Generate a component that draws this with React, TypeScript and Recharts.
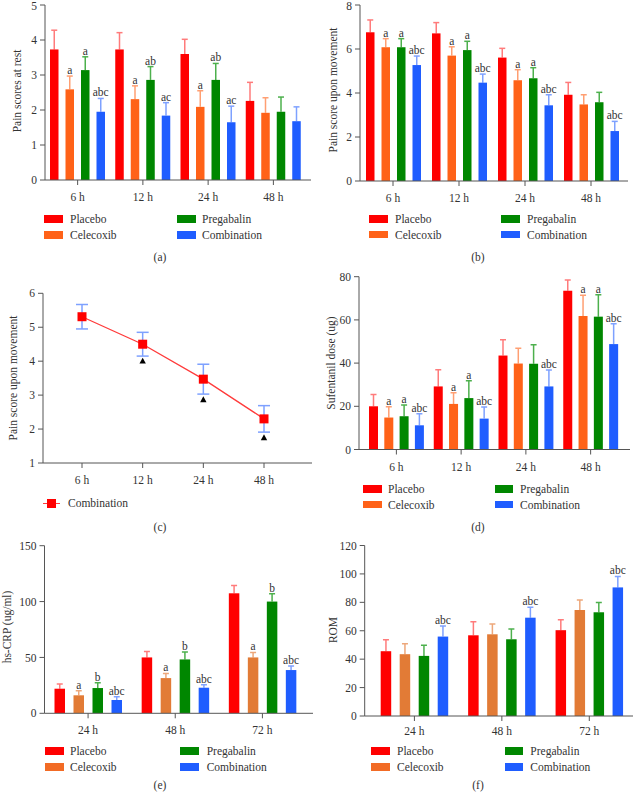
import React from 'react';
import { BarChart, Bar, LineChart, Line, XAxis, YAxis, ErrorBar } from 'recharts';

const FONT = '"Liberation Serif", "Times New Roman", serif';
const AXIS = '#555';
const TEXT = '#333';

const RED = '#ff0000';
const RED_ERR = '#ff7b7b';
const ORANGE = '#ff6218';
const ORANGE_ERR = '#ff9f72';
const ORANGE_DULL = '#e27b36';
const ORANGE_DULL_ERR = '#eda77a';
const GREEN = '#008700';
const GREEN_ERR = '#4db04d';
const BLUE = '#1f5dff';
const BLUE_ERR = '#7ea1ff';

const groupNames = ['Placebo', 'Celecoxib', 'Pregabalin', 'Combination'];
const hoursEarly = ['6 h', '12 h', '24 h', '48 h'];
const hoursLate = ['24 h', '48 h', '72 h'];

// (a) pain scores at rest
const restPlacebo = [3.73, 3.73, 3.6, 2.26];
const restPlaceboSd = [0.55, 0.48, 0.42, 0.53];
const restCelecoxib = [2.59, 2.31, 2.09, 1.92];
const restCelecoxibSd = [0.38, 0.38, 0.46, 0.43];
const restPregabalin = [3.14, 2.86, 2.86, 1.95];
const restPregabalinSd = [0.38, 0.38, 0.47, 0.42];
const restCombination = [1.95, 1.84, 1.65, 1.68];
const restCombinationSd = [0.38, 0.37, 0.46, 0.41];
const restCelecoxibNotes = ['a', 'a', 'a', ''];
const restPregabalinNotes = ['a', 'ab', 'ab', ''];
const restCombinationNotes = ['abc', 'ac', 'ac', ''];

// (b) pain score upon movement
const movePlacebo = [6.76, 6.71, 5.61, 3.92];
const movePlaceboSd = [0.56, 0.49, 0.42, 0.56];
const moveCelecoxib = [6.08, 5.7, 4.58, 3.48];
const moveCelecoxibSd = [0.39, 0.4, 0.48, 0.44];
const movePregabalin = [6.08, 5.95, 4.67, 3.58];
const movePregabalinSd = [0.39, 0.4, 0.48, 0.45];
const moveCombination = [5.27, 4.47, 3.44, 2.27];
const moveCombinationSd = [0.41, 0.39, 0.48, 0.44];
const moveCelecoxibNotes = ['a', 'a', 'a', ''];
const movePregabalinNotes = ['a', 'a', 'a', ''];
const moveCombinationNotes = ['abc', 'abc', 'abc', 'abc'];

// (c) combination trend
const trendCombination = [5.31, 4.5, 3.47, 2.3];
const trendCombinationSd = [0.36, 0.35, 0.44, 0.39];
const trendSignificance = [null, 4.01, 2.87, 1.75];

// (d) sufentanil dose
const sufPlacebo = [20, 29.2, 43.5, 73.5];
const sufPlaceboSd = [5.5, 7.7, 7.3, 5];
const sufCelecoxib = [14.8, 21.1, 39.8, 61.8];
const sufCelecoxibSd = [5, 5.2, 7.1, 9.6];
const sufPregabalin = [15.4, 23.8, 39.7, 61.5];
const sufPregabalinSd = [5.2, 8, 8.8, 10.2];
const sufCombination = [11.2, 14.3, 29.2, 48.8];
const sufCombinationSd = [5.3, 5.4, 7.6, 9.4];
const sufCelecoxibNotes = ['a', 'a', '', 'a'];
const sufPregabalinNotes = ['a', 'a', '', 'a'];
const sufCombinationNotes = ['abc', 'abc', 'abc', 'abc'];

// (e) hs-CRP
const crpPlacebo = [22, 50, 107.4];
const crpPlaceboSd = [4.2, 5.4, 6.9];
const crpCelecoxib = [16.1, 31.5, 50];
const crpCelecoxibSd = [4.1, 4.2, 4.5];
const crpPregabalin = [22.6, 48.2, 100];
const crpPregabalinSd = [4.8, 6.6, 7.1];
const crpCombination = [11.9, 22.9, 38.7];
const crpCombinationSd = [3, 2.7, 3.6];
const crpCelecoxibNotes = ['a', 'a', 'a'];
const crpPregabalinNotes = ['b', 'b', 'b'];
const crpCombinationNotes = ['abc', 'abc', 'abc'];

// (f) ROM
const romPlacebo = [45.6, 56.8, 60.4];
const romPlaceboSd = [8, 9.6, 7.4];
const romCelecoxib = [43.5, 57.5, 74.6];
const romCelecoxibSd = [7.3, 7.3, 7];
const romPregabalin = [42.3, 54, 73];
const romPregabalinSd = [7.5, 7.3, 6.8];
const romCombination = [55.9, 69.2, 90.5];
const romCombinationSd = [7.5, 7.3, 7.7];
const romNone = ['', '', ''];
const romCombinationNotes = ['abc', 'abc', 'abc'];

type Series = { values: number[]; sd: number[]; notes: string[]; fill: string; err: string };

function buildRows(categories: string[], series: Series[]) {
  return categories.map((cat, i) => {
    const row: any = { cat };
    series.forEach((s, k) => {
      row['v' + k] = s.values[i];
      row['e' + k] = s.sd[i];
      row['n' + k] = s.notes[i];
    });
    return row;
  });
}

// bar with an upward-only error bar and the significance letters above it
const barShape = (k: number, fill: string, err: string) => (p: any) => {
  const { x, y, width, height, payload } = p;
  const v = payload['v' + k];
  const perUnit = v ? height / v : 0;
  const top = y - payload['e' + k] * perUnit;
  const cx = x + width / 2;
  const note = payload['n' + k];
  return (
    <g>
      <line x1={cx} x2={cx} y1={y} y2={top} stroke={err} strokeWidth={1.5} />
      <line x1={cx - 3} x2={cx + 3} y1={top} y2={top} stroke={err} strokeWidth={1.5} />
      <rect x={x} y={y} width={width} height={height} fill={fill} />
      {note ? (
        <text x={cx} y={top - 2} textAnchor="middle" fontSize={11.5} fill={TEXT} fontFamily={FONT}>
          {note}
        </text>
      ) : null}
    </g>
  );
};

const tickStyle = { fontSize: 11.5, fill: TEXT, fontFamily: FONT };

function Txt({ x, y, children, center, size = 11.5 }: any) {
  return (
    <div
      style={{
        position: 'absolute',
        left: x,
        top: y - 7,
        lineHeight: '14px',
        fontSize: size,
        color: TEXT,
        whiteSpace: 'nowrap',
        transform: center ? 'translateX(-50%)' : undefined,
      }}
    >
      {children}
    </div>
  );
}

function YLabel({ x, y, text }: any) {
  return (
    <div
      style={{
        position: 'absolute',
        left: x,
        top: y,
        fontSize: 11.5,
        lineHeight: '14px',
        color: TEXT,
        whiteSpace: 'nowrap',
        transform: 'translate(-50%, -50%) rotate(-90deg)',
      }}
    >
      {text}
    </div>
  );
}

function Legend4({ colors, c1, t1, c2, t2, r1, r2 }: any) {
  const items = [
    { label: groupNames[0], color: colors[0], sx: c1, tx: t1, y: r1 },
    { label: groupNames[2], color: colors[2], sx: c2, tx: t2, y: r1 },
    { label: groupNames[1], color: colors[1], sx: c1, tx: t1, y: r2 },
    { label: groupNames[3], color: colors[3], sx: c2, tx: t2, y: r2 },
  ];
  return (
    <>
      {items.map((it) => (
        <React.Fragment key={it.label}>
          <div style={{ position: 'absolute', left: it.sx, top: it.y - 4, width: 18.5, height: 7.5, background: it.color }} />
          <Txt x={it.tx} y={it.y}>{it.label}</Txt>
        </React.Fragment>
      ))}
    </>
  );
}

function BarPanel({ cfg }: any) {
  const rows = buildRows(cfg.categories, cfg.series);
  return (
    <div style={{ position: 'absolute', left: cfg.x, top: cfg.y, width: 318, height: cfg.plotBottom + 25 }}>
      <BarChart
        width={318}
        height={cfg.plotBottom + 25}
        data={rows}
        margin={{ top: cfg.plotTop, right: 318 - cfg.plotRight, bottom: 0, left: 0 }}
        barSize={cfg.barSize}
        barGap={cfg.barGap}
      >
        <XAxis
          dataKey="cat"
          height={25}
          interval={0}
          padding={cfg.padding}
          tick={tickStyle}
          tickSize={5}
          tickMargin={cfg.tickMargin}
          axisLine={{ stroke: AXIS }}
          tickLine={{ stroke: AXIS }}
        />
        <YAxis
          width={cfg.yAxisW}
          domain={cfg.domain}
          ticks={cfg.ticks}
          tick={tickStyle}
          tickSize={5}
          tickMargin={3}
          axisLine={{ stroke: AXIS }}
          tickLine={{ stroke: AXIS }}
          allowDataOverflow
        />
        {cfg.series.map((s: Series, k: number) => (
          <Bar key={k} dataKey={'v' + k} isAnimationActive={false} shape={barShape(k, s.fill, s.err)} />
        ))}
      </BarChart>
    </div>
  );
}

const brightColors = [RED, ORANGE, GREEN, BLUE];
const legendColorsLate = [RED, '#f26b25', GREEN, BLUE];

const panelA = {
  x: 0, y: 0, yAxisW: 45, plotTop: 5, plotBottom: 180, plotRight: 311,
  padding: { left: 0, right: 5 }, domain: [0, 5], ticks: [0, 1, 2, 3, 4, 5],
  categories: hoursEarly, barSize: 8.5, barGap: 7, tickMargin: 8,
  series: [
    { values: restPlacebo, sd: restPlaceboSd, notes: ['', '', '', ''], fill: RED, err: RED_ERR },
    { values: restCelecoxib, sd: restCelecoxibSd, notes: restCelecoxibNotes, fill: ORANGE, err: ORANGE_ERR },
    { values: restPregabalin, sd: restPregabalinSd, notes: restPregabalinNotes, fill: GREEN, err: GREEN_ERR },
    { values: restCombination, sd: restCombinationSd, notes: restCombinationNotes, fill: BLUE, err: BLUE_ERR },
  ],
};

const panelB = {
  x: 318, y: 0, yAxisW: 42, plotTop: 5, plotBottom: 181, plotRight: 310,
  padding: { left: 0, right: 4 }, domain: [0, 8], ticks: [0, 2, 4, 6, 8],
  categories: hoursEarly, barSize: 8.5, barGap: 7, tickMargin: 8,
  series: [
    { values: movePlacebo, sd: movePlaceboSd, notes: ['', '', '', ''], fill: RED, err: RED_ERR },
    { values: moveCelecoxib, sd: moveCelecoxibSd, notes: moveCelecoxibNotes, fill: ORANGE, err: ORANGE_ERR },
    { values: movePregabalin, sd: movePregabalinSd, notes: movePregabalinNotes, fill: GREEN, err: GREEN_ERR },
    { values: moveCombination, sd: moveCombinationSd, notes: moveCombinationNotes, fill: BLUE, err: BLUE_ERR },
  ],
};

const panelD = {
  x: 318, y: 270, yAxisW: 41, plotTop: 6.7, plotBottom: 179.5, plotRight: 312,
  padding: { left: 5, right: 7 }, domain: [0, 80], ticks: [0, 20, 40, 60, 80],
  categories: hoursEarly, barSize: 9, barGap: 6.3, tickMargin: 8,
  series: [
    { values: sufPlacebo, sd: sufPlaceboSd, notes: ['', '', '', ''], fill: RED, err: RED_ERR },
    { values: sufCelecoxib, sd: sufCelecoxibSd, notes: sufCelecoxibNotes, fill: ORANGE, err: ORANGE_ERR },
    { values: sufPregabalin, sd: sufPregabalinSd, notes: sufPregabalinNotes, fill: GREEN, err: GREEN_ERR },
    { values: sufCombination, sd: sufCombinationSd, notes: sufCombinationNotes, fill: BLUE, err: BLUE_ERR },
  ],
};

const panelE = {
  x: 0, y: 530, yAxisW: 44.5, plotTop: 15.7, plotBottom: 183.3, plotRight: 313,
  padding: { left: 0, right: 7 }, domain: [0, 150], ticks: [0, 50, 100, 150],
  categories: hoursLate, barSize: 10.5, barGap: 8.5, tickMargin: 8,
  series: [
    { values: crpPlacebo, sd: crpPlaceboSd, notes: ['', '', ''], fill: RED, err: RED_ERR },
    { values: crpCelecoxib, sd: crpCelecoxibSd, notes: crpCelecoxibNotes, fill: ORANGE_DULL, err: ORANGE_DULL_ERR },
    { values: crpPregabalin, sd: crpPregabalinSd, notes: crpPregabalinNotes, fill: GREEN, err: GREEN_ERR },
    { values: crpCombination, sd: crpCombinationSd, notes: crpCombinationNotes, fill: BLUE, err: BLUE_ERR },
  ],
};

const panelF = {
  x: 318, y: 530, yAxisW: 46.7, plotTop: 15.5, plotBottom: 186, plotRight: 315,
  padding: { left: 6, right: 0 }, domain: [0, 120], ticks: [0, 20, 40, 60, 80, 100, 120],
  categories: hoursLate, barSize: 10.5, barGap: 8.5, tickMargin: 6,
  series: [
    { values: romPlacebo, sd: romPlaceboSd, notes: romNone, fill: RED, err: RED_ERR },
    { values: romCelecoxib, sd: romCelecoxibSd, notes: romNone, fill: ORANGE_DULL, err: ORANGE_DULL_ERR },
    { values: romPregabalin, sd: romPregabalinSd, notes: romNone, fill: GREEN, err: GREEN_ERR },
    { values: romCombination, sd: romCombinationSd, notes: romCombinationNotes, fill: BLUE, err: BLUE_ERR },
  ],
};

const squareDot = (p: any) => {
  if (p.cy == null || p.value == null) return <g key={p.index} />;
  return <rect key={p.index} x={p.cx - 4.5} y={p.cy - 4.5} width={9} height={9} fill={RED} />;
};

const triangleDot = (p: any) => {
  if (p.cy == null || p.value == null) return <g key={p.index} />;
  const { cx, cy } = p;
  return <path key={p.index} d={`M${cx},${cy - 3.2} L${cx - 3.2},${cy + 2.6} L${cx + 3.2},${cy + 2.6} Z`} fill="#000" />;
};

function TrendPanel() {
  const rows = hoursEarly.map((cat, i) => ({
    cat,
    v: trendCombination[i],
    e: trendCombinationSd[i],
    s: trendSignificance[i],
  }));
  return (
    <div style={{ position: 'absolute', left: 0, top: 270, width: 318, height: 218 }}>
      <LineChart width={318} height={218} data={rows} margin={{ top: 23.3, right: 6, bottom: 0, left: 0 }}>
        <XAxis
          dataKey="cat"
          height={25}
          interval={0}
          padding={{ left: 39, right: 48 }}
          tick={tickStyle}
          tickSize={5}
          tickMargin={8}
          axisLine={{ stroke: AXIS }}
          tickLine={{ stroke: AXIS }}
        />
        <YAxis
          width={43}
          domain={[1, 6]}
          ticks={[1, 2, 3, 4, 5, 6]}
          tick={tickStyle}
          tickSize={5}
          tickMargin={3}
          axisLine={{ stroke: AXIS }}
          tickLine={{ stroke: AXIS }}
          allowDataOverflow
        />
        <Line dataKey="v" stroke="#ff3b3b" strokeWidth={1.3} dot={squareDot} activeDot={false} isAnimationActive={false}>
          <ErrorBar dataKey="e" direction="y" width={6} stroke={BLUE_ERR} strokeWidth={1.5} />
        </Line>
        <Line dataKey="s" stroke="none" dot={triangleDot} activeDot={false} isAnimationActive={false} />
      </LineChart>
    </div>
  );
}

export default function App() {
  return (
    <div
      style={{
        position: 'absolute',
        left: 0,
        top: 0,
        width: 636,
        height: 793,
        background: '#fff',
        fontFamily: FONT,
        overflow: 'hidden',
      }}
    >
      <BarPanel cfg={panelA} />
      <YLabel x={16.7} y={91} text="Pain scores at rest" />
      <Legend4 colors={brightColors} c1={44} t1={70} c2={177} t2={202} r1={219} r2={235} />
      <Txt x={160} y={257} center>(a)</Txt>

      <BarPanel cfg={panelB} />
      <YLabel x={333} y={90} text="Pain score upon movement" />
      <Legend4 colors={brightColors} c1={369} t1={395} c2={501} t2={527} r1={219} r2={234.5} />
      <Txt x={478} y={257} center>(b)</Txt>

      <TrendPanel />
      <YLabel x={13.3} y={378} text="Pain score upon movement" />
      <div style={{ position: 'absolute', left: 43, top: 502.5, width: 17, height: 1.3, background: '#ff3b3b' }} />
      <div style={{ position: 'absolute', left: 47, top: 498.7, width: 9, height: 9, background: RED }} />
      <Txt x={68} y={503.3}>Combination</Txt>
      <Txt x={160} y={527} center>(c)</Txt>

      <BarPanel cfg={panelD} />
      <YLabel x={330.7} y={363} text="Sufentanil dose (ug)" />
      <Legend4 colors={brightColors} c1={363} t1={388} c2={494.7} t2={520} r1={489} r2={504.5} />
      <Txt x={478} y={527} center>(d)</Txt>

      <BarPanel cfg={panelE} />
      <YLabel x={7} y={627} text="hs-CRP (ug/ml)" />
      <Legend4 colors={legendColorsLate} c1={45} t1={70} c2={180} t2={206.7} r1={751} r2={767} />
      <Txt x={160} y={785} center>(e)</Txt>

      <BarPanel cfg={panelF} />
      <YLabel x={333} y={630} text="ROM" />
      <Legend4 colors={legendColorsLate} c1={371.3} t1={397} c2={504.7} t2={530.3} r1={751} r2={767.3} />
      <Txt x={478} y={785} center>(f)</Txt>
    </div>
  );
}
